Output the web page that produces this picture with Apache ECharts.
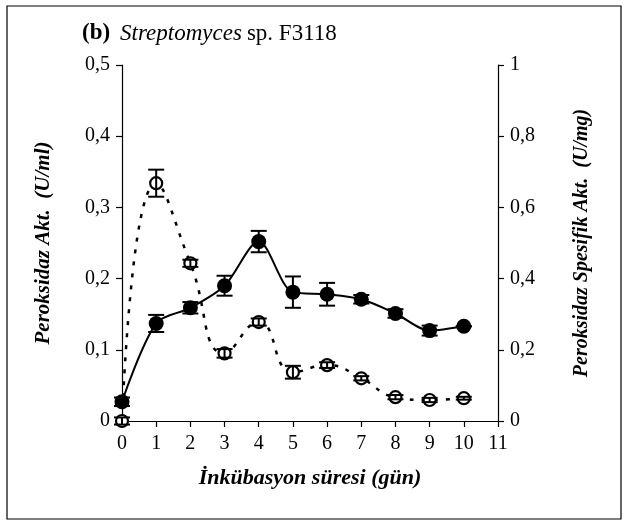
<!DOCTYPE html>
<html>
<head>
<meta charset="utf-8">
<script src="https://cdn.jsdelivr.net/npm/echarts@6/dist/echarts.min.js"></script>
<style>
  html, body { margin: 0; padding: 0; background: #fff; }
  #chart { width: 628px; height: 526px; }
</style>
</head>
<body>
<div id="chart"></div>
<script>
var days = [0, 1, 2, 3, 4, 5, 6, 7, 8, 9, 10];
// Peroksidaz Akt. (U/ml) - dolu daire, sol eksen
var aktivite = [0.027, 0.137, 0.159, 0.190, 0.252, 0.181, 0.178, 0.171, 0.151, 0.127, 0.133];
var aktiviteErr = [0.006, 0.012, 0.008, 0.014, 0.015, 0.022, 0.016, 0.006, 0.006, 0.007, 0];
// Peroksidaz Spesifik Akt. (U/mg) - bos daire, sag eksen
var spesifik = [0.0, 0.668, 0.443, 0.19, 0.278, 0.137, 0.157, 0.12, 0.067, 0.059, 0.064];
var spesifikErr = [0.01, 0.038, 0.01, 0.012, 0.01, 0.018, 0.008, 0.006, 0.006, 0.006, 0.004];

var serif = 'Liberation Serif';

function comma(v) {
    return v === 0 ? '0' : String(+v.toFixed(1)).replace('.', ',');
}

function pairs(ys) {
    return days.map(function (d, i) { return [d, ys[i]]; });
}

function errData(ys, es) {
    return days.map(function (d, i) { return [d, ys[i] - es[i], ys[i] + es[i]]; });
}

function errBar(params, api) {
    var x = api.value(0);
    var lo = api.coord([x, api.value(1)]);
    var hi = api.coord([x, api.value(2)]);
    var w = 8;
    var st = { stroke: '#000', lineWidth: 2 };
    return {
        type: 'group',
        children: [
            { type: 'line', shape: { x1: lo[0], y1: lo[1], x2: hi[0], y2: hi[1] }, style: st },
            { type: 'line', shape: { x1: lo[0] - w, y1: lo[1], x2: lo[0] + w, y2: lo[1] }, style: st },
            { type: 'line', shape: { x1: hi[0] - w, y1: hi[1], x2: hi[0] + w, y2: hi[1] }, style: st }
        ]
    };
}

var axisName = { fontFamily: serif, fontSize: 21, fontWeight: 'bold', fontStyle: 'italic', color: '#000' };
var tickText = { fontFamily: serif, fontSize: 20, color: '#000' };

var option = {
    animation: false,
    backgroundColor: '#fff',
    title: {
        left: 77,
        top: 17,
        text: '{b|(b)}  {i|Streptomyces} {r|sp. F3118}',
        textStyle: {
            rich: {
                b: { fontFamily: serif, fontSize: 23, fontWeight: 'bold', color: '#000' },
                i: { fontFamily: serif, fontSize: 23, fontStyle: 'italic', fontWeight: 'normal', color: '#000' },
                r: { fontFamily: serif, fontSize: 23, fontWeight: 'normal', color: '#000' }
            }
        }
    },
    graphic: [{
        type: 'rect',
        shape: { x: 7, y: 6, width: 614, height: 513 },
        style: { fill: 'none', stroke: '#000', lineWidth: 1.2 }
    }],
    grid: { left: 122, right: 130, top: 65, bottom: 105 },
    xAxis: {
        type: 'value',
        min: 0, max: 11, interval: 1,
        name: 'İnkübasyon süresi (gün)',
        nameLocation: 'middle',
        nameGap: 46,
        nameTextStyle: Object.assign({}, axisName, { fontSize: 22 }),
        axisLine: { lineStyle: { color: '#000', width: 1.2 } },
        axisTick: { length: 6, lineStyle: { color: '#000', width: 1.2 } },
        axisLabel: Object.assign({ margin: 13 }, tickText),
        splitLine: { show: false }
    },
    yAxis: [{
        type: 'value',
        min: 0, max: 0.5, interval: 0.1,
        name: 'Peroksidaz Akt.  (U/ml)',
        nameLocation: 'middle',
        nameGap: 68,
        nameTextStyle: axisName,
        axisLine: { show: true, lineStyle: { color: '#000', width: 1.2 } },
        axisTick: { show: true, length: 6, lineStyle: { color: '#000', width: 1.2 } },
        axisLabel: Object.assign({ margin: 12, formatter: comma }, tickText),
        splitLine: { show: false }
    }, {
        type: 'value',
        position: 'right',
        min: 0, max: 1, interval: 0.2,
        name: 'Peroksidaz Spesifik Akt.  (U/mg)',
        nameLocation: 'middle',
        nameGap: 74,
        nameRotate: 90,
        nameTextStyle: Object.assign({}, axisName, { fontSize: 20 }),
        axisLine: { show: true, lineStyle: { color: '#000', width: 1.2 } },
        axisTick: { show: true, length: 6, lineStyle: { color: '#000', width: 1.2 } },
        axisLabel: Object.assign({ margin: 12, formatter: comma }, tickText),
        splitLine: { show: false }
    }],
    series: [{
        name: 'Peroksidaz Akt.',
        type: 'line',
        yAxisIndex: 0,
        data: pairs(aktivite),
        smooth: 0.3,
        symbol: 'circle',
        symbolSize: 15,
        itemStyle: { color: '#000' },
        lineStyle: { color: '#000', width: 2 },
        z: 3
    }, {
        type: 'custom',
        yAxisIndex: 0,
        renderItem: errBar,
        data: errData(aktivite, aktiviteErr),
        z: 4
    }, {
        name: 'Peroksidaz Spesifik Akt.',
        type: 'line',
        yAxisIndex: 1,
        data: pairs(spesifik),
        smooth: 0.5,
        symbol: 'circle',
        symbolSize: 12,
        itemStyle: { color: '#fff', borderColor: '#000', borderWidth: 2.2 },
        lineStyle: { color: '#000', width: 2.5, type: [4, 8] },
        z: 3
    }, {
        type: 'custom',
        yAxisIndex: 1,
        renderItem: errBar,
        data: errData(spesifik, spesifikErr),
        z: 4
    }]
};

var myChart = echarts.init(document.getElementById('chart'));
myChart.setOption(option);
</script>
</body>
</html>
